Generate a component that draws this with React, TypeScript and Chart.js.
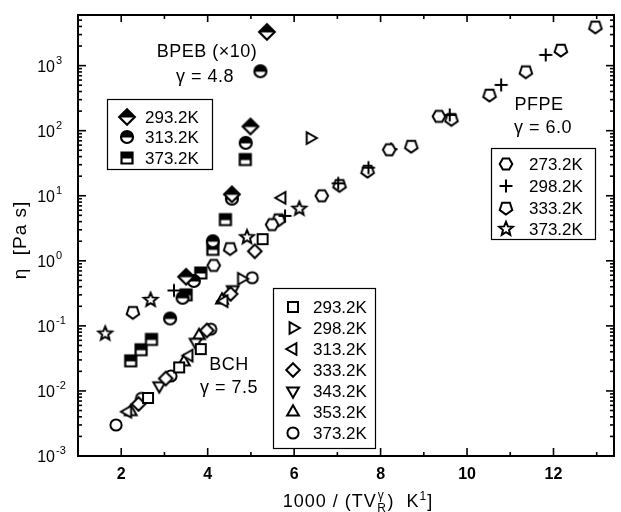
import React, { useEffect, useRef } from "react";
import { Chart, registerables } from "chart.js";
Chart.register(...registerables);

const FONT = "'Liberation Sans', Arial, Helvetica, sans-serif";

// ---- axes ----
const xMin = 1;
const xMax = 13.4;
const yMin = 0.001;
const yMax = 6000;
const xMajorTicks = [2, 4, 6, 8, 10, 12];
const xMinorTicks = [3, 5, 7, 9, 11, 13];
const yDecades = [-3, -2, -1, 0, 1, 2, 3];

// ---- BPEB (x10), gamma = 4.8 ----
const bpeb293X = [3.5, 4.56, 4.99, 5.37];
const bpeb293Y = [0.57, 10.5, 116, 3300];
const bpeb313X = [3.13, 3.42, 3.68, 4.12, 4.56, 4.88, 5.22];
const bpeb313Y = [0.13, 0.27, 0.49, 2.0, 9.0, 65, 820];
const bpeb373X = [2.22, 2.46, 2.7, 3.5, 3.84, 4.12, 4.41, 4.87];
const bpeb373Y = [0.029, 0.043, 0.062, 0.3, 0.65, 1.5, 4.3, 36];

// ---- PFPE, gamma = 6.0 ----
const pfpe273X = [4.14, 5.49, 6.64, 8.2, 9.35];
const pfpe273Y = [0.85, 3.6, 10, 51, 166];
const pfpe298X = [3.22, 5.79, 7.02, 7.72, 8.24, 9.6, 10.79, 11.82];
const pfpe298Y = [0.35, 4.9, 15.5, 27, 52, 175, 505, 1460];
const pfpe333X = [2.27, 4.52, 5.64, 7.05, 7.7, 8.71, 9.64, 10.52, 11.36, 12.17, 12.97];
const pfpe333Y = [0.162, 1.55, 4.3, 14.5, 24, 58, 150, 355, 810, 1740, 3950];
const pfpe373X = [1.63, 2.68, 4.91, 6.12];
const pfpe373Y = [0.076, 0.25, 2.3, 6.3];

// ---- BCH, gamma = 7.5 ----
const bch293X = [2.62, 3.34, 3.84, 5.27];
const bch293Y = [0.0078, 0.023, 0.044, 2.15];
const bch298X = [4.78, 6.37];
const bch298Y = [0.53, 77];
const bch313X = [2.15, 3.57, 4.38, 5.72];
const bch313Y = [0.0048, 0.035, 0.24, 9.3];
const bch333X = [2.4, 3.03, 3.98, 4.53, 5.09];
const bch333Y = [0.0063, 0.0155, 0.085, 0.31, 1.4];
const bch343X = [2.88, 3.72, 4.58];
const bch343Y = [0.012, 0.056, 0.36];
const bch353X = [2.22, 3.45, 3.8, 4.33];
const bch353Y = [0.0048, 0.028, 0.071, 0.25];
const bch373X = [1.88, 2.47, 3.15, 4.07, 5.03];
const bch373Y = [0.003, 0.0077, 0.017, 0.089, 0.55];

type SeriesDef = { group: string; label: string; shape: string; xs: number[]; ys: number[] };

const series: SeriesDef[] = [
  { group: "BPEB", label: "293.2K", shape: "halfDiamond", xs: bpeb293X, ys: bpeb293Y },
  { group: "BPEB", label: "313.2K", shape: "halfCircle", xs: bpeb313X, ys: bpeb313Y },
  { group: "BPEB", label: "373.2K", shape: "halfSquare", xs: bpeb373X, ys: bpeb373Y },
  { group: "PFPE", label: "273.2K", shape: "hexagon", xs: pfpe273X, ys: pfpe273Y },
  { group: "PFPE", label: "298.2K", shape: "plus", xs: pfpe298X, ys: pfpe298Y },
  { group: "PFPE", label: "333.2K", shape: "pentagon", xs: pfpe333X, ys: pfpe333Y },
  { group: "PFPE", label: "373.2K", shape: "star", xs: pfpe373X, ys: pfpe373Y },
  { group: "BCH", label: "293.2K", shape: "square", xs: bch293X, ys: bch293Y },
  { group: "BCH", label: "298.2K", shape: "triRight", xs: bch298X, ys: bch298Y },
  { group: "BCH", label: "313.2K", shape: "triLeft", xs: bch313X, ys: bch313Y },
  { group: "BCH", label: "333.2K", shape: "diamond", xs: bch333X, ys: bch333Y },
  { group: "BCH", label: "343.2K", shape: "triDown", xs: bch343X, ys: bch343Y },
  { group: "BCH", label: "353.2K", shape: "triUp", xs: bch353X, ys: bch353Y },
  { group: "BCH", label: "373.2K", shape: "circle", xs: bch373X, ys: bch373Y },
];

// legend boxes (pixel layout)
const legendBoxes: Record<string, { x0: number; y0: number; x1: number; y1: number; rowY: number[]; mx: number; tx: number }> = {
  BPEB: { x0: 107, y0: 99, x1: 212, y1: 169, rowY: [117, 137, 158], mx: 127, tx: 145 },
  PFPE: { x0: 491, y0: 148, x1: 595, y1: 239, rowY: [164, 186, 208, 229], mx: 506, tx: 529 },
  BCH: { x0: 273, y0: 288, x1: 375, y1: 448, rowY: [307, 328, 349, 370, 391, 412, 433], mx: 293, tx: 313 },
};

const annotations = [
  { text: "BPEB (\u00d710)", x: 207, y: 52 },
  { text: "\u03b3 = 4.8", x: 205, y: 77 },
  { text: "PFPE", x: 539, y: 105 },
  { text: "\u03b3 = 6.0", x: 543, y: 128 },
  { text: "BCH", x: 229, y: 365 },
  { text: "\u03b3 = 7.5", x: 229, y: 388 },
];

function polyPath(ctx: CanvasRenderingContext2D, n: number, r: number, startDeg: number) {
  ctx.beginPath();
  for (let i = 0; i < n; i++) {
    const a = ((startDeg + (i * 360) / n) * Math.PI) / 180;
    const px = r * Math.cos(a);
    const py = r * Math.sin(a);
    if (i === 0) ctx.moveTo(px, py);
    else ctx.lineTo(px, py);
  }
  ctx.closePath();
}

function starPath(ctx: CanvasRenderingContext2D, ro: number, ri: number) {
  ctx.beginPath();
  for (let i = 0; i < 10; i++) {
    const a = ((-90 + i * 36) * Math.PI) / 180;
    const r = i % 2 ? ri : ro;
    const px = r * Math.cos(a);
    const py = r * Math.sin(a);
    if (i === 0) ctx.moveTo(px, py);
    else ctx.lineTo(px, py);
  }
  ctx.closePath();
}

function makeMarker(shape: string): HTMLCanvasElement {
  const S = 24;
  const c = document.createElement("canvas");
  c.width = S;
  c.height = S;
  const ctx = c.getContext("2d")!;
  ctx.translate(S / 2, S / 2);
  ctx.strokeStyle = "#000";
  ctx.fillStyle = "#fff";
  ctx.lineWidth = 2;
  ctx.lineJoin = "miter";
  if (shape === "plus") {
    ctx.lineWidth = 2;
    ctx.beginPath();
    ctx.moveTo(-6.5, 0);
    ctx.lineTo(6.5, 0);
    ctx.moveTo(0, -6.5);
    ctx.lineTo(0, 6.5);
    ctx.stroke();
    return c;
  }
  const path = () => {
    switch (shape) {
      case "square":
        ctx.beginPath();
        ctx.rect(-5, -5, 10, 10);
        break;
      case "halfSquare":
        ctx.beginPath();
        ctx.rect(-5.5, -5.5, 11, 11);
        break;
      case "circle":
        ctx.beginPath();
        ctx.arc(0, 0, 5.6, 0, Math.PI * 2);
        break;
      case "halfCircle":
        ctx.beginPath();
        ctx.arc(0, 0, 6, 0, Math.PI * 2);
        break;
      case "diamond":
        polyPath(ctx, 4, 6.8, -90);
        break;
      case "halfDiamond":
        polyPath(ctx, 4, 7.8, -90);
        break;
      case "triUp":
        polyPath(ctx, 3, 6.8, -90);
        break;
      case "triDown":
        polyPath(ctx, 3, 6.8, 90);
        break;
      case "triRight":
        polyPath(ctx, 3, 6.8, 0);
        break;
      case "triLeft":
        polyPath(ctx, 3, 6.8, 180);
        break;
      case "hexagon":
        polyPath(ctx, 6, 6.3, 0);
        break;
      case "pentagon":
        polyPath(ctx, 5, 6.6, 90);
        break;
      case "star":
        starPath(ctx, 7.2, 3.2);
        break;
    }
  };
  path();
  ctx.fill();
  if (shape.startsWith("half")) {
    ctx.save();
    path();
    ctx.clip();
    ctx.fillStyle = "#000";
    ctx.fillRect(-12, -12, 24, 12.5);
    ctx.restore();
    ctx.lineWidth = 2.2;
  }
  path();
  ctx.stroke();
  return c;
}

function drawXTitle(ctx: CanvasRenderingContext2D, cx: number, baseY: number) {
  const big = `18px ${FONT}`;
  const small = `12px ${FONT}`;
  const parts: { t: string; f: string; dy: number; stackNext?: boolean }[] = [
    { t: "1000 / (TV", f: big, dy: 0 },
    { t: "R", f: small, dy: 5, stackNext: true },
    { t: "\u03b3", f: small, dy: -8 },
    { t: ")  K", f: big, dy: 0 },
    { t: "1", f: small, dy: -7 },
    { t: "]", f: big, dy: 0 },
  ];
  (ctx as any).letterSpacing = "1px";
  let total = 0;
  const widths: number[] = [];
  for (let i = 0; i < parts.length; i++) {
    ctx.font = parts[i].f;
    widths.push(ctx.measureText(parts[i].t).width);
  }
  for (let i = 0; i < parts.length; i++) {
    if (parts[i].stackNext) {
      total += Math.max(widths[i], widths[i + 1]) + 1;
      i++;
    } else total += widths[i];
  }
  let x = cx - total / 2;
  ctx.textAlign = "left";
  ctx.textBaseline = "alphabetic";
  for (let i = 0; i < parts.length; i++) {
    const p = parts[i];
    if (p.stackNext) {
      const q = parts[i + 1];
      ctx.font = p.f;
      ctx.fillText(p.t, x + 0.5, baseY + p.dy);
      ctx.font = q.f;
      ctx.fillText(q.t, x + 1, baseY + q.dy);
      x += Math.max(widths[i], widths[i + 1]) + 1;
      i++;
    } else {
      ctx.font = p.f;
      ctx.fillText(p.t, x, baseY + p.dy);
      x += widths[i];
    }
  }
  (ctx as any).letterSpacing = "0px";
}

const markerCache: Record<string, HTMLCanvasElement> = {};
function getMarker(shape: string) {
  if (!markerCache[shape]) markerCache[shape] = makeMarker(shape);
  return markerCache[shape];
}

const overlayPlugin = {
  id: "overlay",
  afterDraw(chart: any) {
    const { ctx, chartArea: a, scales } = chart;
    const xs = scales.x;
    const ys = scales.y;
    ctx.save();
    ctx.strokeStyle = "#000";
    ctx.fillStyle = "#000";
    const line = (x0: number, y0: number, x1: number, y1: number) => {
      ctx.beginPath();
      ctx.moveTo(x0, y0);
      ctx.lineTo(x1, y1);
      ctx.stroke();
    };
    // ticks (inward, all four sides)
    ctx.lineWidth = 1.6;
    for (const v of xMajorTicks) {
      const px = xs.getPixelForValue(v);
      line(px, a.bottom, px, a.bottom - 8);
      line(px, a.top, px, a.top + 7);
    }
    for (const v of xMinorTicks) {
      const px = xs.getPixelForValue(v);
      line(px, a.bottom, px, a.bottom - 4);
      line(px, a.top, px, a.top + 4);
    }
    for (const e of yDecades) {
      const base = Math.pow(10, e);
      const py = ys.getPixelForValue(base);
      line(a.left, py, a.left + 8, py);
      line(a.right, py, a.right - 8, py);
      for (let k = 2; k <= 9; k++) {
        const v = base * k;
        if (v > yMax) break;
        const pm = ys.getPixelForValue(v);
        line(a.left, pm, a.left + 4, pm);
        line(a.right, pm, a.right - 4, pm);
      }
    }
    // frame
    ctx.lineWidth = 2;
    ctx.strokeRect(a.left, a.top, a.right - a.left, a.bottom - a.top);

    // y tick labels with superscripts
    for (const e of yDecades) {
      const py = ys.getPixelForValue(Math.pow(10, e));
      ctx.font = `16px ${FONT}`;
      ctx.textAlign = "right";
      ctx.textBaseline = "middle";
      ctx.fillText("10", 55, py + 2);
      ctx.font = `11px ${FONT}`;
      ctx.textAlign = "left";
      ctx.fillText(String(e), 56, py - 5);
    }

    // y title
    ctx.save();
    ctx.translate(21, 240);
    ctx.rotate(-Math.PI / 2);
    ctx.font = `19px ${FONT}`;
    ctx.textAlign = "center";
    ctx.textBaseline = "middle";
    (ctx as any).letterSpacing = "1px";
    ctx.fillText("\u03b7  [Pa s]", 0, 0);
    (ctx as any).letterSpacing = "0px";
    ctx.restore();

    // x title
    drawXTitle(ctx, 358, 507);

    // annotations
    ctx.font = `18px ${FONT}`;
    ctx.textAlign = "center";
    ctx.textBaseline = "middle";
    (ctx as any).letterSpacing = "0.5px";
    for (const an of annotations) ctx.fillText(an.text, an.x, an.y);
    (ctx as any).letterSpacing = "0px";

    // legends
    for (const g of Object.keys(legendBoxes)) {
      const b = legendBoxes[g];
      ctx.fillStyle = "#fff";
      ctx.fillRect(b.x0, b.y0, b.x1 - b.x0, b.y1 - b.y0);
      ctx.lineWidth = 1.2;
      ctx.strokeStyle = "#000";
      ctx.strokeRect(b.x0 + 0.5, b.y0 + 0.5, b.x1 - b.x0, b.y1 - b.y0);
      const members = series.filter((s) => s.group === g);
      members.forEach((s, i) => {
        const m = getMarker(s.shape);
        const y = b.rowY[i];
        ctx.drawImage(m, b.mx - m.width / 2, y - m.height / 2);
        ctx.fillStyle = "#000";
        ctx.font = `17px ${FONT}`;
        ctx.textAlign = "left";
        ctx.textBaseline = "middle";
        ctx.fillText(s.label, b.tx, y + 1);
      });
    }
    ctx.restore();
  },
};

export default function App() {
  const ref = useRef<HTMLCanvasElement | null>(null);
  useEffect(() => {
    if (!ref.current) return;
    const datasets = series.map((s) => ({
      label: `${s.group} ${s.label}`,
      data: s.xs.map((x, i) => ({ x, y: s.ys[i] })),
      pointStyle: getMarker(s.shape) as any,
      pointRadius: 6,
      showLine: false,
    }));
    const chart = new Chart(ref.current, {
      type: "scatter",
      data: { datasets },
      options: {
        animation: false,
        responsive: false,
        devicePixelRatio: 1,
        layout: { padding: { top: 15, right: 5, left: 0, bottom: 0 } },
        plugins: { legend: { display: false }, tooltip: { enabled: false } },
        scales: {
          x: {
            type: "linear",
            min: xMin,
            max: xMax,
            grid: { display: false, drawTicks: false },
            border: { display: false },
            afterBuildTicks: (s: any) => {
              s.ticks = xMajorTicks.map((v) => ({ value: v }));
            },
            afterFit: (s: any) => {
              s.height = 56;
            },
            ticks: {
              autoSkip: false,
              maxRotation: 0,
              padding: 9,
              color: "#000",
              font: { family: FONT, size: 16, weight: "bold" },
              callback: (v: any) => String(v),
            },
          },
          y: {
            type: "logarithmic",
            min: yMin,
            max: yMax,
            grid: { display: false, drawTicks: false },
            border: { display: false },
            ticks: { display: false },
            afterFit: (s: any) => {
              s.width = 78;
            },
          },
        },
      },
      plugins: [overlayPlugin],
    });
    return () => chart.destroy();
  }, []);
  return (
    <div style={{ position: "absolute", left: 0, top: 0, width: 621, height: 512, background: "#fff" }}>
      <canvas ref={ref} width={621} height={512} style={{ display: "block" }} />
    </div>
  );
}
